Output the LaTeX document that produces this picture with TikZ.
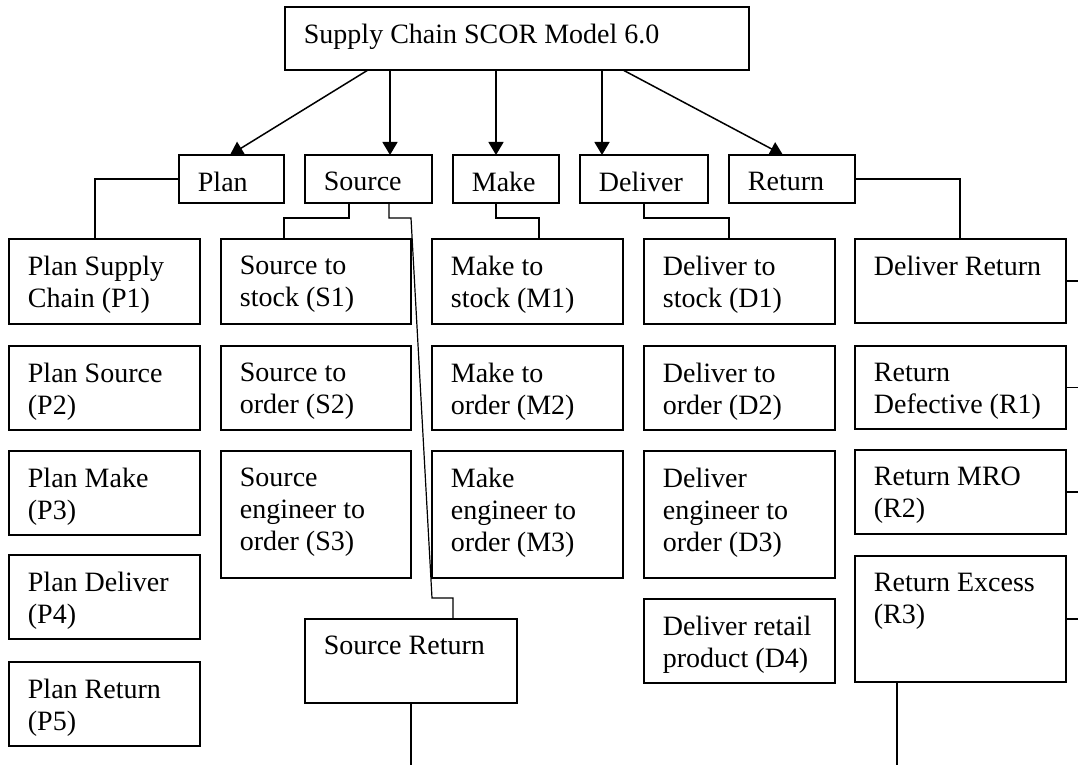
\documentclass[tikz,border=0pt]{standalone}
\usepackage{fontspec}
\setmainfont{Liberation Serif}
\usepackage{tikz}
\usetikzlibrary{arrows.meta, positioning}
\newcommand{\boxfont}{\fontsize{14}{15.8}\selectfont}
\tikzstyle{box} = [rectangle, draw=black, line width=0.75pt, anchor=north west, outer sep=0pt, inner sep=0pt]
\tikzstyle{head} = [box, minimum width=52.5pt, minimum height=24pt]
\tikzstyle{proc} = [box, minimum width=95.5pt, minimum height=42pt]
\tikzstyle{lbl} = [anchor=north west, align=left, inner sep=0pt, xshift=9.25pt, yshift=-8.5pt, font=\boxfont]
\tikzstyle{arrow} = [line width=0.75pt, -{Triangle[length=6.5pt, width=7.5pt]}]
\tikzstyle{link} = [line width=0.6pt]

\begin{document}
\begin{tikzpicture}[x=0.5pt, y=-0.5pt]
  \useasboundingbox (0,0) rectangle (1078,765);
  \coordinate (edge) at (1078,765);

  % Top box
  \node (scor) [box, minimum width=232pt, minimum height=31.5pt, label={[lbl]north west:Supply Chain SCOR Model 6.0}] at (285,7) {};

  % Level 2
  \node (plan) [head, label={[lbl]north west:Plan}] at (179,155) {};
  \node (source) [head, minimum width=63.5pt, label={[lbl]north west:Source}] at (305,155) {};
  \node (make) [head, minimum width=53pt, label={[lbl]north west:Make}] at (453,155) {};
  \node (deliver) [head, minimum width=64pt, label={[lbl]north west:Deliver}] at (580,155) {};
  \node (return) [head, minimum width=63pt, label={[lbl]north west:Return}] at (729,155) {};

  % Plan column
  \node (p1) [proc, minimum height=42.5pt, label={[lbl]north west:{Plan Supply\\Chain (P1)}}] at (9,239) {};
  \node (p2) [proc, label={[lbl]north west:{Plan Source\\(P2)}}] at (9,346) {};
  \node (p3) [proc, label={[lbl]north west:{Plan Make\\(P3)}}] at (9,451) {};
  \node (p4) [proc, label={[lbl]north west:{Plan Deliver\\(P4)}}] at (9,555) {};
  \node (p5) [proc, label={[lbl]north west:{Plan Return\\(P5)}}] at (9,662) {};

  % Source column
  \node (s1) [proc, minimum width=95pt, minimum height=42.5pt, label={[lbl]north west:{Source to\\stock (S1)}}] at (221,239) {};
  \node (s2) [proc, minimum width=95pt, label={[lbl]north west:{Source to\\order (S2)}}] at (221,346) {};
  \node (s3) [proc, minimum width=95pt, minimum height=63.5pt, label={[lbl]north west:{Source\\engineer to\\order (S3)}}] at (221,451) {};
  \node (sr) [proc, minimum width=106pt, label={[lbl]north west:Source Return}] at (305,619) {};

  % Make column
  \node (m1) [proc, minimum height=42.5pt, label={[lbl]north west:{Make to\\stock (M1)}}] at (432,239) {};
  \node (m2) [proc, label={[lbl]north west:{Make to\\order (M2)}}] at (432,346) {};
  \node (m3) [proc, minimum height=63.5pt, label={[lbl]north west:{Make\\engineer to\\order (M3)}}] at (432,451) {};

  % Deliver column
  \node (d1) [proc, minimum height=42.5pt, label={[lbl]north west:{Deliver to\\stock (D1)}}] at (644,239) {};
  \node (d2) [proc, label={[lbl]north west:{Deliver to\\order (D2)}}] at (644,346) {};
  \node (d3) [proc, minimum height=63.5pt, label={[lbl]north west:{Deliver\\engineer to\\order (D3)}}] at (644,451) {};
  \node (d4) [proc, label={[lbl]north west:{Deliver retail\\product (D4)}}] at (644,599) {};

  % Return column
  \node (dr) [proc, minimum width=105.5pt, label={[lbl]north west:Deliver Return}] at (855,239) {};
  \node (r1) [proc, minimum width=105.5pt, minimum height=41.5pt, label={[lbl]north west:{Return\\Defective (R1)}}] at (855,346) {};
  \node (r2) [proc, minimum width=105.5pt, label={[lbl]north west:{Return MRO\\(R2)}}] at (855,450) {};
  \node (r3) [proc, minimum width=105.5pt, minimum height=63pt, label={[lbl]north west:{Return Excess\\(R3)}}] at (855,556) {};

  % Arrows from the top box
  \draw[arrow] ([xshift=41.5pt]scor.south west) -- ([xshift=25.5pt]plan.north west);
  \draw[arrow] ([xshift=52.5pt]scor.south west) -- ([xshift=42.5pt]source.north west);
  \draw[arrow] ([xshift=105.5pt]scor.south west) -- ([xshift=21.5pt]make.north west);
  \draw[arrow] ([xshift=158.5pt]scor.south west) -- ([xshift=11pt]deliver.north west);
  \draw[arrow] ([xshift=169pt]scor.south west) -- ([xshift=27pt]return.north west);

  % Links to the processes
  \draw[link] (plan.west) -| ([xshift=43pt]p1.north west);
  \draw[link] ([xshift=22pt]source.south west) -- ++(0,15) -| ([xshift=31.5pt]s1.north west);
  \draw[link] ([xshift=42pt]source.south west) -- ++(0,15) -- ++(22,0) -- ++(21,380) -| ([xshift=74pt]sr.north west);
  \draw[link] ([xshift=21.5pt]make.south west) -- ++(0,15) -| ([xshift=53.5pt]m1.north west);
  \draw[link] ([xshift=32pt]deliver.south west) -- ++(0,15) -| ([xshift=42.5pt]d1.north west);
  \draw[link] (return.east) -| ([xshift=52.5pt]dr.north west);

  % Loose ends
  \draw[link] (sr.south) -- (sr.south |- edge);
  \draw[link] ([xshift=21pt]r3.south west) -- ([xshift=21pt]r3.south west |- edge);
  \foreach \n in {dr, r1, r2, r3}
    \draw[link] (\n.east) -- (\n.east -| edge);

\end{tikzpicture}
\end{document}
